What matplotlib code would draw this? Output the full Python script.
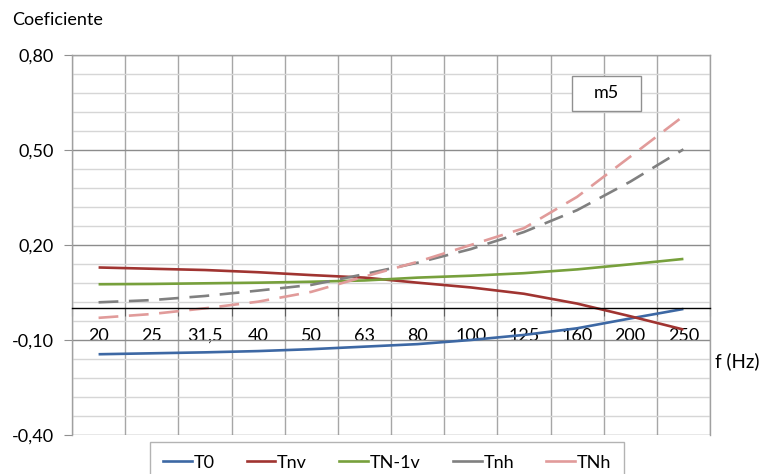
import matplotlib
matplotlib.use("Agg")
import matplotlib.pyplot as plt
import numpy as np
from matplotlib.lines import Line2D
from matplotlib.patches import Rectangle
from matplotlib.ticker import FixedLocator, FuncFormatter

plt.rcParams["font.family"] = ["Lato", "DejaVu Sans"]

# ---------------- Data ----------------

freqs = ["20", "25", "31,5", "40", "50", "63", "80", "100", "125", "160", "200", "250"]

t0 = [-0.145, -0.142, -0.139, -0.135, -0.129, -0.121, -0.113, -0.100, -0.084, -0.063, -0.032, -0.002]
tnv = [0.129, 0.125, 0.121, 0.114, 0.105, 0.097, 0.081, 0.066, 0.046, 0.015, -0.025, -0.067]
tn1v = [0.076, 0.077, 0.079, 0.081, 0.084, 0.088, 0.097, 0.103, 0.111, 0.123, 0.139, 0.156]
tnh_low = [0.019, 0.026, 0.039, 0.056, 0.074, 0.108, 0.144, 0.187, 0.241, 0.310, 0.400, 0.502]
tnh_up = [-0.030, -0.018, 0.000, 0.021, 0.052, 0.100, 0.147, 0.200, 0.253, 0.352, 0.479, 0.607]

y_major = [-0.40, -0.10, 0.20, 0.50, 0.80]

series = [
    ("T0", t0, "#3d68a4", "-"),
    ("Tnv", tnv, "#a03431", "-"),
    ("TN-1v", tn1v, "#77a03c", "-"),
    ("Tnh", tnh_low, "#808080", "--"),
    ("TNh", tnh_up, "#e19b9a", "--"),
]

# ---------------- Figure ----------------

W, H = 761, 474
fig = plt.figure(figsize=(W / 100, H / 100), dpi=100)
ax = fig.add_axes([72 / W, 1 - 435 / H, (710 - 72) / W, (435 - 55) / H])

x = list(range(len(freqs)))
handles = []

for name, vals, color, ls in series:
    line, = ax.plot(x, vals, color=color, linewidth=1.9, solid_capstyle="butt")
    if ls == "--":
        line.set_dashes((7.5, 4))
    # legend shows a plain short segment, like Excel
    handles.append(Line2D([], [], color=color, linewidth=1.9, label=name))

ax.set_xlim(-0.5, len(freqs) - 0.5)
ax.set_ylim(-0.40, 0.80)

# y axis
ax.yaxis.set_major_locator(FixedLocator(y_major))
ax.yaxis.set_minor_locator(FixedLocator(np.arange(-0.40, 0.801, 0.06)))
ax.yaxis.set_major_formatter(FuncFormatter(lambda v, p: f"{v:.2f}".replace(".", ",")))
ax.tick_params(axis="y", which="major", length=6, color="#909090",
               labelsize=13, pad=7)
ax.tick_params(axis="y", which="minor", length=0)

# x axis: gridlines at category boundaries, labels at centres under zero line
ax.xaxis.set_major_locator(FixedLocator([i - 0.5 for i in range(len(freqs) + 1)]))
ax.xaxis.set_major_formatter(FuncFormatter(lambda v, p: ""))
ax.set_xticks(x, freqs, minor=True)
ax.spines["bottom"].set_position(("data", 0))
ax.spines["bottom"].set_color("black")
ax.spines["bottom"].set_linewidth(1.0)
ax.tick_params(axis="x", which="major", length=6, color="#606060", direction="out")
ax.tick_params(axis="x", which="minor", length=0, labelsize=13, pad=14)

for s in ["top", "right", "left"]:
    ax.spines[s].set_color("#a0a0a0")
    ax.spines[s].set_linewidth(1.0)

ax.grid(which="major", axis="y", color="#8c8c8c", linewidth=1.0)
ax.grid(which="minor", axis="y", color="#d6d6d6", linewidth=1.0)
ax.grid(which="major", axis="x", color="#a6a6a6", linewidth=1.0)
ax.set_axisbelow(True)

# ---------------- Labels ----------------

fig.text(12 / W, 1 - 20 / H, "Coeficiente", fontsize=13, va="center", ha="left")
fig.text(715 / W, 1 - 361 / H, "f (Hz)", fontsize=13.5, va="center", ha="left")

ax.add_patch(Rectangle((500 / 638, 324 / 380), 69 / 638, 35 / 380,
                       transform=ax.transAxes, facecolor="white",
                       edgecolor="#909090", linewidth=1.0, zorder=5))
ax.text(534.5 / 638, 341.5 / 380, "m5", transform=ax.transAxes, fontsize=13,
        ha="center", va="center", zorder=6)

leg = fig.legend(handles=handles, loc="upper center",
                 bbox_to_anchor=(387 / W, 1 - 442 / H),
                 ncol=5, fontsize=13, frameon=True, fancybox=False,
                 edgecolor="#a0a0a0", handlelength=1.6, handletextpad=0.1,
                 columnspacing=1.78, borderpad=0.7, borderaxespad=0)
leg.get_frame().set_linewidth(1.0)

fig.savefig("out.png", dpi=100)
